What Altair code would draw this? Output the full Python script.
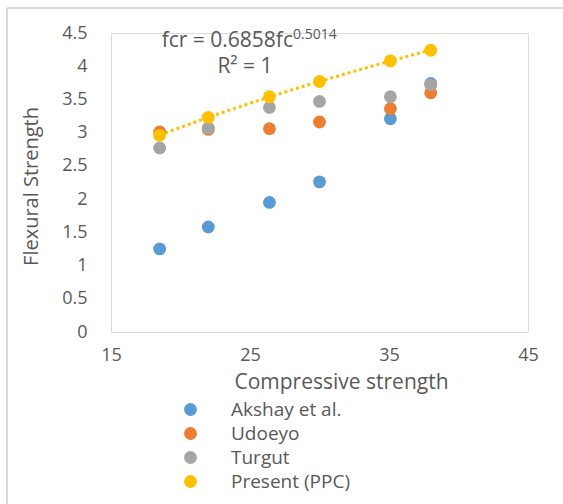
import altair as alt
import pandas as pd

series_names = ["Akshay et al.", "Udoeyo", "Turgut", "Present (PPC)"]
colors = ["#5B9BD5", "#ED7D31", "#A5A5A5", "#FFC000"]

x_vals = [18.5, 22, 26.4, 30, 35.1, 38]
akshay = [1.25, 1.58, 1.95, 2.26, 3.21, 3.74]
udoeyo = [3.01, 3.05, 3.06, 3.16, 3.36, 3.60]
turgut = [2.77, 3.07, 3.38, 3.47, 3.54, 3.72]
present = [2.96, 3.23, 3.54, 3.77, 4.08, 4.24]
x_ticks = [15, 25, 35, 45]
y_ticks = [0, 0.5, 1, 1.5, 2, 2.5, 3, 3.5, 4, 4.5]

rows = []
for i, (name, vals) in enumerate(zip(series_names, [akshay, udoeyo, turgut, present])):
    for x, y in zip(x_vals, vals):
        rows.append({"series": name, "idx": i, "fc": x, "fr": y})
df = pd.DataFrame(rows)
df_present = df[df.series == "Present (PPC)"]

FONT = "Open Sans"
GRAY_TXT = "#595959"

xscale = alt.Scale(domain=[15, 45], nice=False)
yscale = alt.Scale(domain=[0, 4.5], nice=False)

x_axis = alt.Axis(values=x_ticks, title="Compressive strength",
                  grid=False, ticks=False, domainColor="#D9D9D9",
                  labelFlush=False, labelOverlap=False,
                  labelExpr="'' + datum.value",
                  labelFont=FONT, labelFontSize=18, labelColor=GRAY_TXT,
                  labelPadding=14, titleFont=FONT, titleFontSize=21,
                  titleFontWeight="normal", titleColor=GRAY_TXT,
                  titleX=230, titleY=56, titleBaseline="alphabetic",
                  titleAnchor="middle", titleAlign="center")
y_axis = alt.Axis(values=y_ticks, title="Flexural Strength", grid=False,
                  ticks=False, domainColor="#D9D9D9",
                  labelFlush=False, labelOverlap=False, labelBound=False,
                  labelExpr="'' + datum.value",
                  labelFont=FONT, labelFontSize=18, labelColor=GRAY_TXT,
                  labelPadding=24, titleFont=FONT, titleFontSize=20,
                  titleFontWeight="normal", titleColor=GRAY_TXT,
                  titleX=-80, titleY=153, titleBaseline="middle",
                  titleAlign="center", titleAngle=270)

trend = alt.Chart(df_present).transform_regression(
    "fc", "fr", method="pow"
).mark_line(color="#FFC000", strokeWidth=3, strokeDash=[3, 3]).encode(
    x=alt.X("fc:Q", scale=xscale, axis=x_axis),
    y=alt.Y("fr:Q", scale=yscale, axis=y_axis),
)

points = alt.Chart(df).mark_circle(size=165, opacity=1).encode(
    x=alt.X("fc:Q", scale=xscale, axis=x_axis),
    y=alt.Y("fr:Q", scale=yscale, axis=y_axis),
    color=alt.Color("series:N",
                    scale=alt.Scale(domain=series_names, range=colors),
                    sort=series_names,
                    legend=alt.Legend(title=None, orient="none",
                                      legendX=70, legendY=367,
                                      symbolType="circle", symbolSize=165,
                                      symbolStrokeWidth=0, symbolOpacity=1,
                                      labelFont=FONT, labelFontSize=19,
                                      labelColor=GRAY_TXT, labelOffset=31,
                                      rowPadding=4, padding=0)),
    order=alt.Order("idx:Q"),
)

eq_df = pd.DataFrame({"t": ["fcr = 0.6858fc"]})
sup_df = pd.DataFrame({"t": ["0.5014"]})
r2_df = pd.DataFrame({"t": ["R² = 1"]})

eq = alt.Chart(eq_df).mark_text(align="right", baseline="alphabetic", font=FONT,
                                fontSize=21, color=GRAY_TXT).encode(
    text="t:N", x=alt.value(182), y=alt.value(14))
sup = alt.Chart(sup_df).mark_text(align="left", baseline="alphabetic", font=FONT,
                                  fontSize=14, color=GRAY_TXT).encode(
    text="t:N", x=alt.value(182), y=alt.value(6))
r2 = alt.Chart(r2_df).mark_text(align="center", baseline="alphabetic", font=FONT,
                                fontSize=21, color=GRAY_TXT).encode(
    text="t:N", x=alt.value(134), y=alt.value(40))

border_top = alt.Chart(eq_df).mark_rule(color="#D9D9D9", strokeWidth=2).encode(
    x=alt.value(-104), x2=alt.value(460), y=alt.value(-25))
border_left = alt.Chart(eq_df).mark_rule(color="#D9D9D9", strokeWidth=2).encode(
    x=alt.value(-104), y=alt.value(-25), y2=alt.value(480))

chart = alt.layer(border_top, border_left, trend, points, eq, sup, r2).properties(
    width=417, height=299,
    padding={"left": 111, "top": 33, "right": 35, "bottom": 172},
    autosize=alt.AutoSizeParams(type="none"),
).configure_view(stroke=None).configure_axis(labelOverlap=False).configure(background="white")

chart.save("out.html", embed_options={"renderer": "svg", "actions": False})
